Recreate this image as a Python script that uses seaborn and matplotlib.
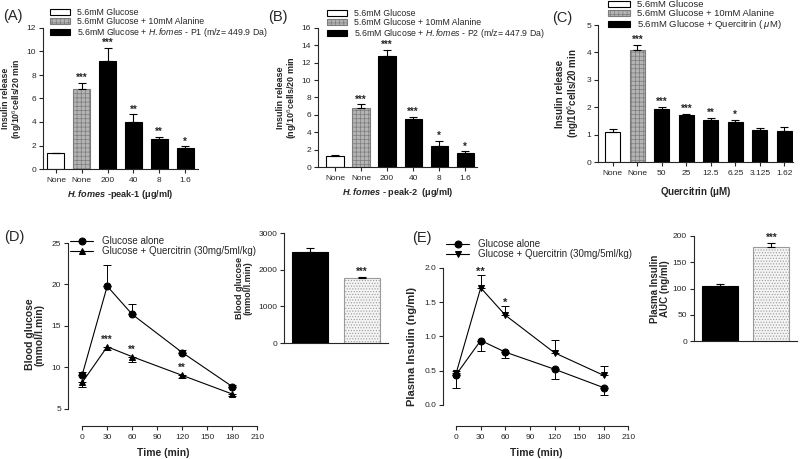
import numpy as np
import pandas as pd
import matplotlib
matplotlib.use('Agg')
import matplotlib.pyplot as plt
import seaborn as sns
from matplotlib.patches import Patch

# ---- data ----
a_labels = ['None', 'None', '200', '40', '8', '1.6']
a_vals = [1.35, 6.85, 9.2, 4.0, 2.55, 1.8]
a_errs = [0.05, 0.45, 1.1, 0.65, 0.15, 0.12]
a_stars = ['', '***', '***', '**', '**', '*']

b_labels = ['None', 'None', '200', '40', '8', '1.6']
b_vals = [1.25, 6.8, 12.8, 5.5, 2.45, 1.65]
b_errs = [0.1, 0.4, 0.65, 0.3, 0.6, 0.15]
b_stars = ['', '***', '***', '***', '*', '*']

c_labels = ['None', 'None', '50', '25', '12.5', '6.25', '3.125', '1.62']
c_vals = [1.1, 4.1, 1.95, 1.72, 1.55, 1.45, 1.15, 1.12]
c_errs = [0.1, 0.18, 0.05, 0.05, 0.05, 0.1, 0.1, 0.17]
c_stars = ['', '***', '***', '***', '**', '*', '', '']

time_min = [0, 30, 60, 120, 180]
d_alone = [9.1, 19.8, 16.4, 11.8, 7.7]
d_alone_err = [0.3, 2.6, 1.3, 0.3, 0.15]
d_querc = [8.2, 12.5, 11.3, 9.05, 6.8]
d_querc_err = [0.6, 0.4, 0.6, 0.3, 0.2]
d_stars = ['', '***', '**', '**', '']

d_auc = [2480, 1770]
d_auc_err = [120, 40]
d_auc_stars = ['', '***']

e_alone = [0.44, 0.94, 0.77, 0.52, 0.25]
e_alone_err = [0.2, 0.16, 0.09, 0.15, 0.1]
e_querc = [0.46, 1.71, 1.31, 0.76, 0.43]
e_querc_err = [0.04, 0.19, 0.14, 0.19, 0.14]
e_stars = ['', '**', '*', '', '']

e_auc = [104, 180]
e_auc_err = [5, 7]
e_auc_stars = ['', '***']

sns.set_style('ticks')
plt.rcParams['font.family'] = ['Liberation Sans', 'DejaVu Sans']
plt.rcParams['mathtext.fontset'] = 'custom'
plt.rcParams['mathtext.rm'] = 'Liberation Sans'
plt.rcParams['mathtext.it'] = 'Liberation Sans:italic'
plt.rcParams['mathtext.bf'] = 'Liberation Sans:bold'
plt.rcParams['mathtext.bfit'] = 'Liberation Sans:bold:italic'
plt.rcParams['hatch.linewidth'] = 0.5
plt.rcParams['axes.linewidth'] = 0.8
plt.rcParams['xtick.major.width'] = 0.8
plt.rcParams['ytick.major.width'] = 0.8
plt.rcParams['xtick.major.size'] = 3
plt.rcParams['ytick.major.size'] = 3
plt.rcParams['xtick.major.pad'] = 2.5
plt.rcParams['ytick.major.pad'] = 2
plt.rcParams['xtick.labelsize'] = 6
plt.rcParams['ytick.labelsize'] = 6

W, H = 800, 459
fig = plt.figure(figsize=(8, 4.59), dpi=100)


def px_axes(x0, y_top, x1, y_bot):
    return fig.add_axes([x0 / W, 1 - y_bot / H, (x1 - x0) / W, (y_bot - y_top) / H])


def fig_pt(x, y):
    return (x / W, 1 - y / H)


styles = {
    'white': dict(facecolor='white', edgecolor='black', hatch=None),
    'gray': dict(facecolor='#b4b4b4', edgecolor='#7c7c7c', hatch='++++'),
    'black': dict(facecolor='black', edgecolor='black', hatch=None),
    'dot': dict(facecolor='#f4f4f4', edgecolor='#9a9a9a', hatch='......'),
}


def bar_panel(ax, labels, vals, errs, stars, kinds, star_pad, width=0.66):
    n = len(vals)
    df = pd.DataFrame({'pos': np.arange(n), 'val': vals})
    sns.barplot(data=df, x='pos', y='val', ax=ax, color='black', width=width,
                errorbar=None, linewidth=0.8)
    for p, k in zip(ax.patches, kinds):
        st = styles[k]
        p.set_facecolor(st['facecolor'])
        p.set_edgecolor(st['edgecolor'])
        if st['hatch']:
            p.set_hatch(st['hatch'])
    ax.errorbar(np.arange(n), vals, yerr=[np.zeros(n), errs], fmt='none',
                ecolor='black', elinewidth=0.8, capsize=3, capthick=0.8)
    for i in range(n):
        if stars[i]:
            ax.text(i, vals[i] + errs[i] + star_pad, stars[i], ha='center',
                    va='bottom', fontsize=7, fontweight='bold')
    ax.set_xticks(np.arange(n))
    ax.set_xticklabels(labels)
    ax.set_xlabel('')
    ax.set_ylabel('')
    sns.despine(ax=ax)


ylab_ins = 'Insulin release\n(ng/10$^6$cells/20 min'

# ---- (A) ----
axA = px_axes(43, 28, 198, 169)
bar_panel(axA, a_labels, a_vals, a_errs, a_stars,
          ['white', 'gray', 'black', 'black', 'black', 'black'], 0.0)
axA.set_ylim(0, 12)
axA.set_xlim(-0.5, 5.5)
axA.set_yticks(range(0, 13, 2))
axA.set_ylabel(ylab_ins, fontsize=6.3, fontweight='bold', labelpad=2,
               linespacing=1.0)
axA.set_xlabel(r'$\mathbfit{H. fomes}$ -peak-1 ($\mathbf{\mu}$g/ml)', fontsize=6.6,
               fontweight='bold', labelpad=3)

# ---- (B) ----
axB = px_axes(318, 28, 477, 167)
bar_panel(axB, b_labels, b_vals, b_errs, b_stars,
          ['white', 'gray', 'black', 'black', 'black', 'black'], 0.0)
axB.set_ylim(0, 16)
axB.set_xlim(-0.65, 5.45)
axB.set_yticks(range(0, 17, 2))
axB.set_ylabel(ylab_ins, fontsize=6.5, fontweight='bold', labelpad=2,
               linespacing=1.0)
axB.set_xlabel(r'$\mathbfit{H. fomes}$ - peak-2  ($\mathbf{\mu}$g/ml)', fontsize=6.6,
               fontweight='bold', labelpad=3)

# ---- (C) ----
axC = px_axes(598, 25, 793, 162)
bar_panel(axC, c_labels, c_vals, c_errs, c_stars,
          ['white', 'gray'] + ['black'] * 6, 0.0, width=0.62)
axC.set_ylim(0, 5)
axC.set_xlim(-0.6, 7.35)
axC.set_yticks(range(0, 6))
axC.set_ylabel(ylab_ins, fontsize=7, fontweight='bold', labelpad=4,
               linespacing=1.0)
axC.set_xlabel(r'Quercitrin ($\mathbf{\mu}$M)', fontsize=7, fontweight='bold',
               labelpad=6)


# legends for the bar panels
def bar_legend(labels, anchor, fs):
    handles = [Patch(**styles[s], linewidth=0.8) for s in ['white', 'gray', 'black']]
    fig.legend(handles, labels, loc='upper left', bbox_to_anchor=anchor,
               frameon=False, fontsize=fs, handlelength=2.3, handleheight=0.6,
               labelspacing=0.0, borderaxespad=0, borderpad=0, handletextpad=0.8)


bar_legend(['5.6mM Glucose', '5.6mM Glucose + 10mM Alanine',
            r'5.6mM Glucose + $\mathit{H. fomes}$ - P1 (m/z= 449.9 Da)'],
           fig_pt(50, 8), 6.3)
bar_legend(['5.6mM Glucose', '5.6mM Glucose + 10mM Alanine',
            r'5.6mM Glucose + $\mathit{H. fomes}$ - P2 (m/z= 447.9 Da)'],
           fig_pt(327, 9), 6.3)
bar_legend(['5.6mM Glucose', '5.6mM Glucose + 10mM Alanine',
            r'5.6mM Glucose + Quercitrin ( $\mu$M)'],
           fig_pt(608, 0), 6.8)

# ---- (D) ----
axD = px_axes(68, 243, 259, 426)
sns.lineplot(x=time_min, y=d_alone, ax=axD, color='black', marker='o',
             markersize=5, linewidth=0.8, markeredgecolor='black',
             label='Glucose alone')
sns.lineplot(x=time_min, y=d_querc, ax=axD, color='black', marker='^',
             markersize=5, linewidth=0.8, markeredgecolor='black',
             label='Glucose + Quercitrin (30mg/5ml/kg)')
axD.errorbar(time_min, d_alone, yerr=[np.zeros(5), d_alone_err], fmt='none',
             ecolor='black', elinewidth=0.7, capsize=3, capthick=0.7)
axD.errorbar(time_min, d_querc, yerr=[d_querc_err, np.zeros(5)], fmt='none',
             ecolor='black', elinewidth=0.7, capsize=3, capthick=0.7)
for t, v, s in zip(time_min, d_querc, d_stars):
    if s:
        axD.text(t, v + 0.25, s, ha='center', va='bottom', fontsize=7,
                 fontweight='bold')
axD.set_xlim(-17, 212)
axD.set_ylim(2.95, 25)
axD.set_xticks(range(0, 211, 30))
axD.set_yticks(range(5, 26, 5))
sns.despine(ax=axD)
axD.spines['left'].set_bounds(5, 25)
axD.spines['bottom'].set_bounds(0, 210)
axD.set_xlabel('Time (min)', fontsize=7.5, fontweight='bold', labelpad=5)
axD.set_ylabel('Blood glucose\n(mmol/l.min)', fontsize=7.5, fontweight='bold',
               labelpad=5, linespacing=1.0)
axD.legend(loc='upper left', bbox_to_anchor=fig_pt(70, 236),
           bbox_transform=fig.transFigure, frameon=False, fontsize=7,
           handlelength=2.4, labelspacing=0.05, borderpad=0, borderaxespad=0,
           handletextpad=0.9)

# inset D
axDi = px_axes(284, 233, 388, 343)
bar_panel(axDi, ['', ''], d_auc, d_auc_err, d_auc_stars, ['black', 'dot'], 0,
          width=0.69)
axDi.set_ylim(0, 3000)
axDi.set_xlim(-0.5, 1.5)
axDi.set_yticks([0, 1000, 2000, 3000])
axDi.tick_params(axis='x', length=0)
axDi.set_ylabel('Blood glucose\n(mmol/l.min)', fontsize=6.5, fontweight='bold',
                labelpad=4, linespacing=1.0)

# ---- (E) ----
axE = px_axes(443, 268, 630, 426)
sns.lineplot(x=time_min, y=e_alone, ax=axE, color='black', marker='o',
             markersize=5, linewidth=0.8, markeredgecolor='black',
             label='Glucose alone')
sns.lineplot(x=time_min, y=e_querc, ax=axE, color='black', marker='v',
             markersize=5, linewidth=0.8, markeredgecolor='black',
             label='Glucose + Quercitrin (30mg/5ml/kg)')
axE.errorbar(time_min, e_alone, yerr=[e_alone_err, np.zeros(5)], fmt='none',
             ecolor='black', elinewidth=0.7, capsize=3, capthick=0.7)
axE.errorbar(time_min, e_querc, yerr=[np.zeros(5), e_querc_err], fmt='none',
             ecolor='black', elinewidth=0.7, capsize=3, capthick=0.7)
for t, v, e, s in zip(time_min, e_querc, e_querc_err, e_stars):
    if s:
        axE.text(t, v + e - 0.03, s, ha='center', va='bottom', fontsize=8,
                 fontweight='bold')
axE.set_xlim(-16, 212)
axE.set_ylim(-0.31, 2.0)
axE.set_xticks(range(0, 211, 30))
axE.set_yticks([0, 0.5, 1.0, 1.5, 2.0])
axE.yaxis.set_major_formatter(matplotlib.ticker.FormatStrFormatter('%.1f'))
sns.despine(ax=axE)
axE.spines['left'].set_bounds(0, 2.0)
axE.spines['bottom'].set_bounds(0, 210)
axE.set_xlabel('Time (min)', fontsize=7.5, fontweight='bold', labelpad=5)
axE.set_ylabel('Plasma Insulin (ng/ml)', fontsize=8, fontweight='bold',
               labelpad=5)
axE.legend(loc='upper left', bbox_to_anchor=fig_pt(446, 239),
           bbox_transform=fig.transFigure, frameon=False, fontsize=7,
           handlelength=2.4, labelspacing=0.05, borderpad=0, borderaxespad=0,
           handletextpad=0.9)

# inset E
axEi = px_axes(694, 236, 797, 341)
bar_panel(axEi, ['', ''], e_auc, e_auc_err, e_auc_stars, ['black', 'dot'], 0,
          width=0.69)
axEi.set_ylim(0, 200)
axEi.set_xlim(-0.5, 1.5)
axEi.set_yticks(range(0, 201, 50))
axEi.tick_params(axis='x', length=0)
axEi.set_ylabel('Plasma Insulin\nAUC (ng/ml)', fontsize=7, fontweight='bold',
                labelpad=2, linespacing=1.0)

# panel letters
for lab, (x, y) in zip(['(A)', '(B)', '(C)', '(D)', '(E)'],
                       [(3, 16), (268, 17), (552, 18), (4, 237), (412, 238)]):
    fig.text(x / W, 1 - y / H, lab, fontsize=10.5, va='center', ha='left')

fig.savefig('out.png', dpi=100)
